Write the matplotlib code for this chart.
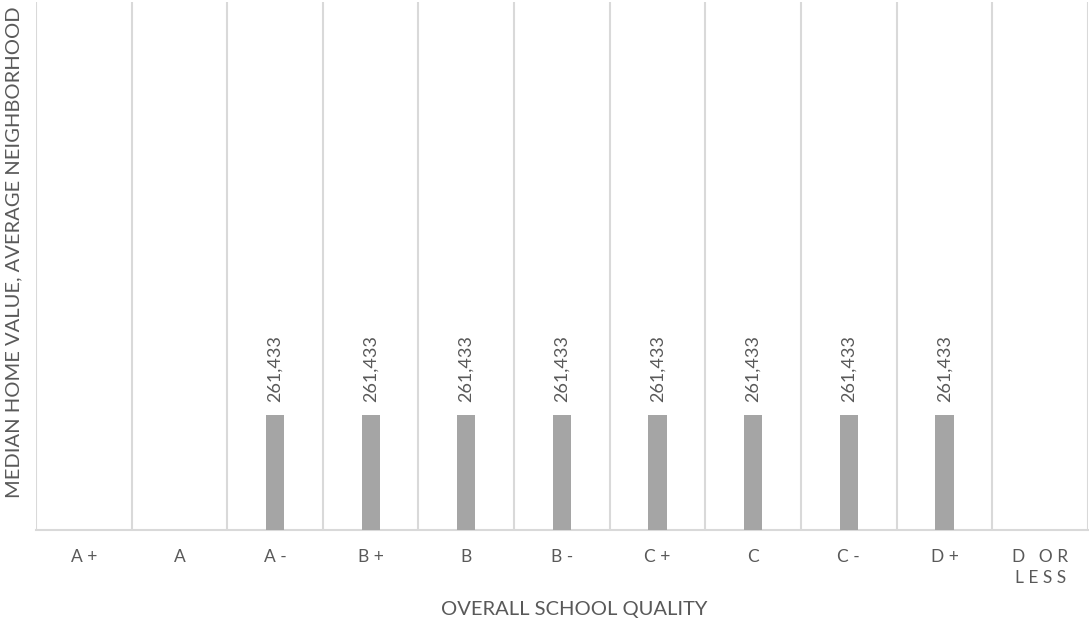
import numpy as np
import matplotlib.pyplot as plt
from matplotlib.ticker import FixedLocator

plt.rcParams['font.family'] = ['Lato', 'DejaVu Sans']

grades = ['A +', 'A', 'A -', 'B +', 'B', 'B -', 'C +', 'C', 'C -', 'D +', 'D   O R\nL E S S']
values = [0, 0, 261433, 261433, 261433, 261433, 261433, 261433, 261433, 261433, 0]

text_color = '#595959'
grid_color = '#d9d9d9'
bar_color = '#a5a5a5'

fig = plt.figure(figsize=(10.89, 6.24), dpi=100)
ax = fig.add_axes([0.033, 0.151, 0.966, 0.846])

x = np.arange(len(grades))
ax.bar(x, values, width=0.19, color=bar_color, zorder=3)

# value labels above the bars
for xi, v in zip(x, values):
    if v > 0:
        ax.text(xi, v + 30000, f'{v:,}', rotation=90, ha='center', va='bottom',
                fontsize=13, color=text_color)

ax.set_xlim(-0.5, len(grades) - 0.5)
ax.set_ylim(0, 1200000)
ax.set_yticks([])
ax.set_xticks(x)
ax.set_xticklabels(grades, fontsize=12.5, color=text_color, linespacing=1.35, va='top')
ax.tick_params(axis='x', length=0, pad=14)
ax.xaxis.set_minor_locator(FixedLocator(np.arange(-0.5, len(grades), 1.0)))
ax.tick_params(axis='x', which='minor', length=0)
ax.grid(True, which='minor', axis='x', color=grid_color, linewidth=1.5, zorder=0)

for s in ['top', 'right', 'left']:
    ax.spines[s].set_visible(False)
ax.spines['bottom'].set_color(grid_color)
ax.spines['bottom'].set_linewidth(1.5)

ax.set_xlabel('OVERALL SCHOOL QUALITY', fontsize=14.5, color=text_color)
ax.xaxis.set_label_coords(0.512, -0.135)
ax.set_ylabel('MEDIAN HOME VALUE, AVERAGE NEIGHBORHOOD', fontsize=14.5, color=text_color)
ax.yaxis.set_label_coords(-0.021, 0.526)
ax.yaxis.label.set_va('center')

fig.savefig('out.png', dpi=100)
